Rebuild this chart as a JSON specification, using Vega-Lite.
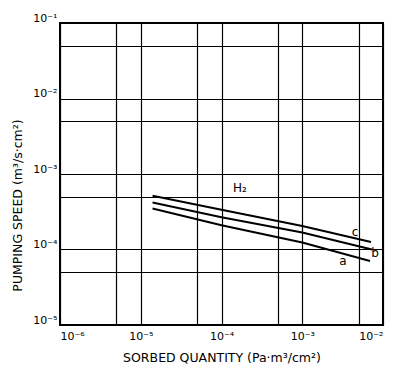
{
  "$schema": "https://vega.github.io/schema/vega-lite/v6.json",
  "autosize": "none",
  "width": 323,
  "height": 302,
  "padding": {"left": 60, "top": 23, "right": 13, "bottom": 50},
  "background": "white",
  "config": {
    "view": {"stroke": "black", "strokeWidth": 2},
    "font": "DejaVu Sans"
  },
  "datasets": {
    "lines": [
      {"series": "c", "x": 1.4e-5, "y": 5.14e-4},
      {"series": "c", "x": 1e-4, "y": 3.36e-4},
      {"series": "c", "x": 1e-3, "y": 2.05e-4},
      {"series": "c", "x": 7.1e-3, "y": 1.26e-4},
      {"series": "b", "x": 1.4e-5, "y": 4.19e-4},
      {"series": "b", "x": 1e-4, "y": 2.67e-4},
      {"series": "b", "x": 1e-3, "y": 1.68e-4},
      {"series": "b", "x": 7.3e-3, "y": 1.0e-4},
      {"series": "a", "x": 1.4e-5, "y": 3.49e-4},
      {"series": "a", "x": 1e-4, "y": 2.1e-4},
      {"series": "a", "x": 1e-3, "y": 1.24e-4},
      {"series": "a", "x": 6.9e-3, "y": 7.06e-5}
    ],
    "labels": [
      {"text": "H₂", "x": 1.69e-4, "y": 6.5e-4},
      {"text": "c", "x": 4.5e-3, "y": 1.68e-4},
      {"text": "b", "x": 8.0e-3, "y": 9.1e-5},
      {"text": "a", "x": 3.2e-3, "y": 6.95e-5}
    ]
  },
  "layer": [
    {
      "data": {"name": "lines"},
      "mark": {"type": "line", "color": "black", "strokeWidth": 2},
      "encoding": {
        "x": {
          "field": "x", "type": "quantitative",
          "scale": {"type": "log", "domain": [1e-6, 1e-2], "nice": false},
          "axis": {
            "values": [1e-6, 5e-6, 1e-5, 5e-5, 1e-4, 5e-4, 1e-3, 5e-3, 1e-2],
            "grid": true, "gridColor": "black", "gridOpacity": 1, "gridWidth": 1.2,
            "ticks": false, "domain": false,
            "labelExpr": "abs(log(datum.value)/LN10 - round(log(datum.value)/LN10)) < 0.01 ? '10⁻' + ['⁰','¹','²','³','⁴','⁵','⁶'][-round(log(datum.value)/LN10)] : ''",
            "labelFontSize": 11, "labelColor": "black", "labelPadding": 5,
            "title": "SORBED QUANTITY  (Pa·m³/cm²)",
            "titleFontSize": 12.5, "titleFontWeight": "normal", "titleColor": "black",
            "titlePadding": 10
          }
        },
        "y": {
          "field": "y", "type": "quantitative",
          "scale": {"type": "log", "domain": [1e-5, 1e-1], "nice": false},
          "axis": {
            "values": [1e-5, 5e-5, 1e-4, 5e-4, 1e-3, 5e-3, 1e-2, 5e-2, 1e-1],
            "grid": true, "gridColor": "black", "gridOpacity": 1, "gridWidth": 1.2,
            "ticks": false, "domain": false,
            "labelExpr": "abs(log(datum.value)/LN10 - round(log(datum.value)/LN10)) < 0.01 ? '10⁻' + ['⁰','¹','²','³','⁴','⁵','⁶'][-round(log(datum.value)/LN10)] : ''",
            "labelFontSize": 11, "labelColor": "black", "labelPadding": 3,
            "labelBaseline": "bottom",
            "title": "PUMPING SPEED  (m³/s·cm²)",
            "titleFontSize": 12.5, "titleFontWeight": "normal", "titleColor": "black",
            "titleY": 182, "titleX": -36
          }
        },
        "detail": {"field": "series", "type": "nominal"}
      }
    },
    {
      "data": {"name": "labels"},
      "mark": {"type": "text", "color": "black", "fontSize": 12},
      "encoding": {
        "x": {"field": "x", "type": "quantitative", "scale": {"type": "log"}},
        "y": {"field": "y", "type": "quantitative", "scale": {"type": "log"}},
        "text": {"field": "text"}
      }
    }
  ]
}
